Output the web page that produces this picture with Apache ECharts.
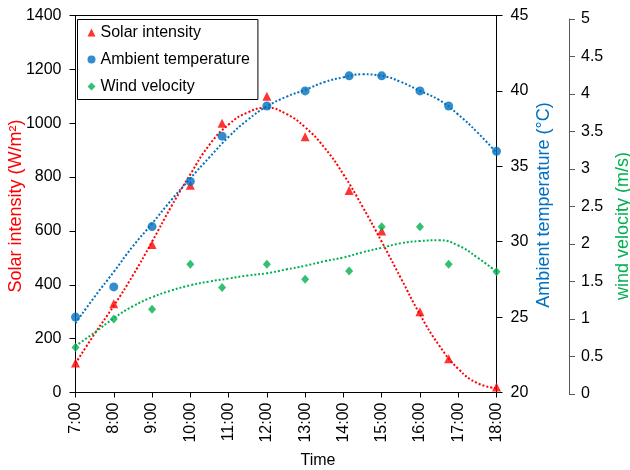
<!DOCTYPE html>
<html>
<head>
<meta charset="utf-8">
<script src="https://cdn.jsdelivr.net/npm/echarts@6/dist/echarts.min.js"></script>
<style>
  html, body { margin: 0; padding: 0; background: #fff; }
  #chart { width: 630px; height: 470px; }
</style>
</head>
<body>
<div id="chart"></div>
<script>
// Hour tick labels along the time axis (7:00 … 18:00)
const timeLabels = ['7:00', '8:00', '9:00', '10:00', '11:00', '12:00',
                    '13:00', '14:00', '15:00', '16:00', '17:00', '18:00'];

// Measurement times, in decimal hours
const obsHours = [7, 8, 9, 10, 10.83, 12, 13, 14.15, 15, 16, 16.75, 18];

// Measured values
const solarIntensity = [110, 330, 550, 770, 1000, 1100, 950, 750, 600, 300, 125, 20];   // W/m²
const ambientTemp    = [25, 27, 31, 34, 37, 39, 40, 41, 41, 40, 39, 36];                // °C
const windVelocity   = [0.62, 1.0, 1.13, 1.73, 1.42, 1.73, 1.53, 1.64, 2.23, 2.23, 1.73, 1.63]; // m/s

// Trend curves, sampled every half hour
const trendHours = [7, 7.5, 8, 8.5, 9, 9.5, 10, 10.5, 11, 11.5, 12, 12.5,
                    13, 13.5, 14, 14.5, 15, 15.5, 16, 16.5, 17, 17.5, 18];
const solarTrend = [108, 218, 322, 435, 560, 690, 810, 920, 995, 1040, 1057, 1035,
                    985, 910, 810, 690, 560, 425, 290, 175, 88, 35, 16];
const tempTrend  = [24.6, 26.35, 28.0, 29.7, 31.2, 32.75, 34.2, 35.6, 36.95, 38.08, 38.97, 39.6,
                    40.07, 40.58, 40.9, 41.1, 41.0, 40.6, 40.0, 39.4, 38.43, 37.25, 35.9];
const windTrend  = [0.64, 0.82, 1.01, 1.17, 1.29, 1.38, 1.45, 1.50, 1.54, 1.58, 1.61, 1.66,
                    1.71, 1.77, 1.82, 1.89, 1.95, 2.01, 2.04, 2.05, 1.98, 1.82, 1.63];

const RED = '#FF0000', BLUE = '#0070C0', GREEN = '#00B050';
const FONT = '"Liberation Sans", Arial, sans-serif';

const pairs = (xs, ys) => xs.map((x, i) => [x, ys[i]]);

const chart = echarts.init(document.getElementById('chart'), null, { renderer: 'canvas' });

const valueAxisBase = {
  type: 'value',
  splitLine: { show: false },
  axisLine: { show: true, lineStyle: { color: '#000', width: 1 } },
  axisTick: { show: true, length: 6, lineStyle: { color: '#000', width: 1 } },
  axisLabel: { fontSize: 16, color: '#000', fontFamily: FONT, margin: 14,
               formatter: v => String(v) }
};

const option = {
  animation: false,
  backgroundColor: '#fff',
  textStyle: { fontFamily: FONT },
  grid: [
    { left: 75.5, top: 15.5, width: 421, height: 377,
      show: true, borderColor: '#000', borderWidth: 1, backgroundColor: 'transparent' },
    { left: 75.5, top: 19, width: 421, height: 375 }
  ],
  xAxis: [
    {
      type: 'value', gridIndex: 0, min: 7, max: 18, interval: 1,
      splitLine: { show: false },
      axisLine: { show: true, onZero: false, lineStyle: { color: '#000', width: 1 } },
      axisTick: { show: true, length: 5, lineStyle: { color: '#000' } },
      axisLabel: {
        rotate: 90, margin: 10, fontSize: 16, color: '#000', fontFamily: FONT,
        formatter: v => timeLabels[Math.round(v - 7)]
      }
    },
    { type: 'value', gridIndex: 1, min: 7, max: 18, show: false }
  ],
  yAxis: [
    Object.assign({}, valueAxisBase, {
      gridIndex: 0, position: 'left', min: 0, max: 1400, interval: 200
    }),
    Object.assign({}, valueAxisBase, {
      gridIndex: 0, position: 'right', min: 20, max: 45, interval: 5
    }),
    Object.assign({}, valueAxisBase, {
      gridIndex: 1, position: 'right', offset: 72.5, min: 0, max: 5, interval: 0.5,
      axisLine: { show: true, lineStyle: { color: '#595959', width: 1 } },
      axisTick: { show: true, length: 6, lineStyle: { color: '#595959', width: 1 } },
      axisLabel: { fontSize: 16, color: '#000', fontFamily: FONT, margin: 12,
                   formatter: v => String(v) }
    })
  ],
  legend: {
    data: [
      { name: 'Solar intensity', icon: 'triangle' },
      { name: 'Ambient temperature', icon: 'circle' },
      { name: 'Wind velocity', icon: 'diamond' }
    ],
    orient: 'vertical',
    left: 77.5, top: 19.5,
    padding: [5, 8, 5, 10],
    itemGap: 11, itemWidth: 8, itemHeight: 8,
    borderColor: '#000', borderWidth: 1, backgroundColor: '#fff',
    textStyle: { fontSize: 16, color: '#000', lineHeight: 16, fontFamily: FONT },
    z: 10
  },
  graphic: [
    { type: 'text', x: 16, y: 206, rotation: Math.PI / 2,
      style: { text: 'Solar intensity (W/m²)', fill: RED, font: '18px ' + FONT,
               align: 'center', verticalAlign: 'middle' } },
    { type: 'text', x: 544, y: 205, rotation: Math.PI / 2,
      style: { text: 'Ambient temperature (°C)', fill: BLUE, font: '18px ' + FONT,
               align: 'center', verticalAlign: 'middle' } },
    { type: 'text', x: 623, y: 226, rotation: Math.PI / 2,
      style: { text: 'wind velocity (m/s)', fill: GREEN, font: '18px ' + FONT,
               align: 'center', verticalAlign: 'middle' } },
    { type: 'text', x: 318, y: 461,
      style: { text: 'Time', fill: '#000', font: '16px ' + FONT,
               align: 'center', verticalAlign: 'middle' } }
  ],
  series: [
    { name: 'solar-trend', type: 'line', xAxisIndex: 0, yAxisIndex: 0,
      data: pairs(trendHours, solarTrend), smooth: true, symbol: 'none', silent: true,
      lineStyle: { color: RED, width: 2, type: [2, 2] }, z: 2 },
    { name: 'temp-trend', type: 'line', xAxisIndex: 0, yAxisIndex: 1,
      data: pairs(trendHours, tempTrend), smooth: true, symbol: 'none', silent: true,
      lineStyle: { color: BLUE, width: 2, type: [2, 2] }, z: 2 },
    { name: 'wind-trend', type: 'line', xAxisIndex: 1, yAxisIndex: 2,
      data: pairs(trendHours, windTrend), smooth: true, symbol: 'none', silent: true,
      lineStyle: { color: GREEN, width: 2, type: [2, 2] }, z: 2 },
    { name: 'Solar intensity', type: 'scatter', xAxisIndex: 0, yAxisIndex: 0,
      symbol: 'triangle', symbolSize: [9, 9], itemStyle: { color: RED },
      data: pairs(obsHours, solarIntensity), z: 3 },
    { name: 'Ambient temperature', type: 'scatter', xAxisIndex: 0, yAxisIndex: 1,
      symbol: 'circle', symbolSize: 9, itemStyle: { color: BLUE },
      data: pairs(obsHours, ambientTemp), z: 4 },
    { name: 'Wind velocity', type: 'scatter', xAxisIndex: 1, yAxisIndex: 2,
      symbol: 'diamond', symbolSize: [8, 9], itemStyle: { color: GREEN },
      data: pairs(obsHours, windVelocity), z: 5 }
  ]
};

chart.setOption(option);
</script>
</body>
</html>
